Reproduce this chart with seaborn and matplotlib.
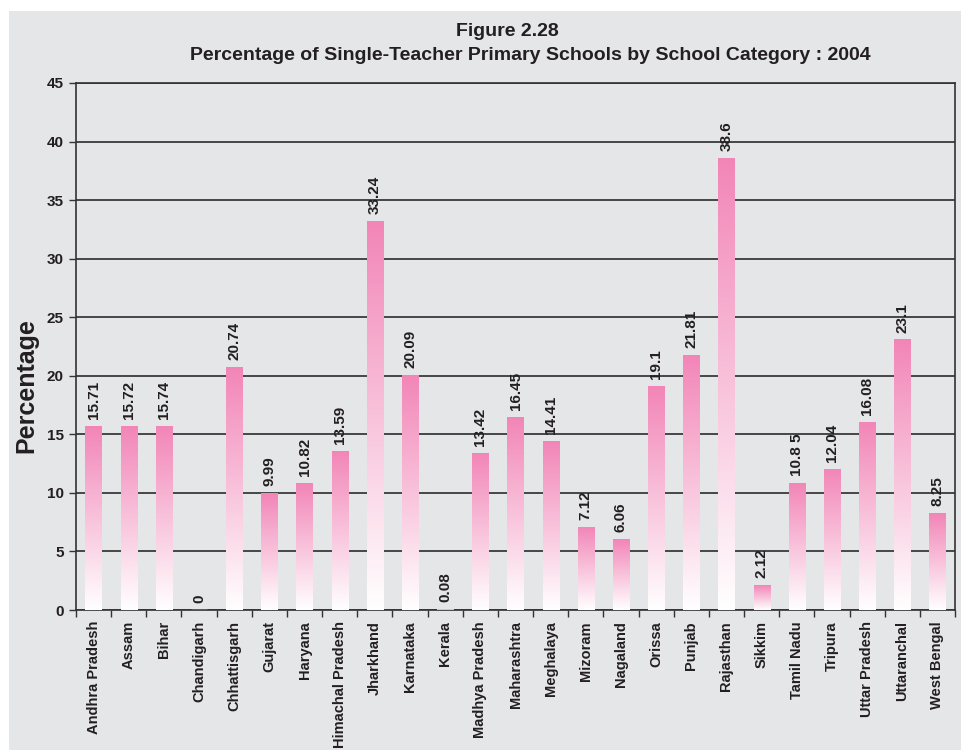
import numpy as np
import pandas as pd
import seaborn as sns
import matplotlib.pyplot as plt
from matplotlib.colors import LinearSegmentedColormap
from matplotlib.patches import Rectangle

# data
states = ["Andhra Pradesh", "Assam", "Bihar", "Chandigarh", "Chhattisgarh", "Gujarat",
          "Haryana", "Himachal Pradesh", "Jharkhand", "Karnataka", "Kerala",
          "Madhya Pradesh", "Maharashtra", "Meghalaya", "Mizoram", "Nagaland", "Orissa",
          "Punjab", "Rajasthan", "Sikkim", "Tamil Nadu", "Tripura", "Uttar Pradesh",
          "Uttaranchal", "West Bengal"]
percent = [15.71, 15.72, 15.74, 0, 20.74, 9.99, 10.82, 13.59, 33.24, 20.09, 0.08,
           13.42, 16.45, 14.41, 7.12, 6.06, 19.1, 21.81, 38.6, 2.12, 10.85, 12.04,
           16.08, 23.1, 8.25]
value_labels = ["15.71", "15.72", "15.74", "0", "20.74", "9.99", "10.82", "13.59", "33.24",
                "20.09", "0.08", "13.42", "16.45", "14.41", "7.12", "6.06", "19.1", "21.81",
                "38.6", "2.12", "10.8 5", "12.04", "16.08", "23.1", "8.25"]
y_ticks = [0, 5, 10, 15, 20, 25, 30, 35, 40, 45]

bg = "#e5e6e8"
pink = "#f285b7"
ink = "#231f20"

sns.set_theme(style="white")
plt.rcParams['font.family'] = ['Liberation Sans', 'DejaVu Sans']

df = pd.DataFrame({"state": states, "percent": percent})

fig = plt.figure(figsize=(9.61, 7.5), dpi=100)
fig.patch.set_facecolor("white")
fig.patches.append(Rectangle((9 / 961, 0), 1, 1 - 11 / 750, transform=fig.transFigure,
                             facecolor=bg, edgecolor="none", zorder=-10))
ax = fig.add_axes([76 / 961, 1 - 610 / 750, (955 - 76) / 961, (610 - 83) / 750])
ax.set_facecolor(bg)

sns.barplot(data=df, x="state", y="percent", ax=ax, width=0.46, color=pink, zorder=3)

# vertical gradient inside each bar: pink at the top fading to white
cmap = LinearSegmentedColormap.from_list("pinkfade", ["#ffffff", pink])
grad = np.linspace(0, 1, 256).reshape(-1, 1)
for bar in ax.patches:
    x0, y0 = bar.get_x(), bar.get_y()
    w, h = bar.get_width(), bar.get_height()
    if h <= 0:
        continue
    bar.set_facecolor("none")
    bar.set_edgecolor("none")
    im = ax.imshow(grad, cmap=cmap, origin="lower", aspect="auto",
                   extent=[x0, x0 + w, y0, y0 + h], zorder=3)
    im.set_clip_path(bar)

for i, (v, lab) in enumerate(zip(percent, value_labels)):
    ax.annotate(lab, (i, v), xytext=(0, 5), textcoords="offset points",
                rotation=90, ha="center", va="bottom", fontsize=11,
                fontweight="bold", color=ink, zorder=5)

ax.set_xlim(-0.5, len(states) - 0.5)
ax.set_ylim(0, 45)
ax.set_yticks(y_ticks)
ax.set_yticklabels([str(t) for t in y_ticks], fontsize=11, fontweight="bold", color=ink)
ax.yaxis.grid(True, color="#2b2b2b", linewidth=1.2, zorder=0)
ax.set_axisbelow(True)

ax.set_xticks(range(len(states)))
ax.set_xticklabels(states, rotation=90, fontsize=10.5, fontweight="bold", color=ink)
ax.set_xticks(np.arange(-0.5, len(states), 1), minor=True)
ax.tick_params(axis="x", which="major", length=0, pad=8)
ax.tick_params(axis="x", which="minor", length=5, width=1, color="#333333", direction="out", bottom=True)
ax.tick_params(axis="y", which="major", length=5, width=1, color="#333333", direction="out", left=True, pad=4)

for s in ["left", "bottom", "right", "top"]:
    ax.spines[s].set_visible(True)
    ax.spines[s].set_color("#333333")
    ax.spines[s].set_linewidth(1.2)

ax.set_xlabel("")
ax.set_ylabel("Percentage", fontsize=18, fontweight="bold", color=ink)
ax.yaxis.set_label_coords(-0.043, 0.425)

fig.text(507 / 961, 1 - 31 / 750, "Figure 2.28", ha="center", va="center",
         fontsize=14, fontweight="bold", color=ink)
fig.text(530 / 961, 1 - 56 / 750,
         "Percentage of Single-Teacher Primary Schools by School Category : 2004",
         ha="center", va="center", fontsize=14, fontweight="bold", color=ink)

fig.savefig("out.png", dpi=100, facecolor=fig.get_facecolor())
